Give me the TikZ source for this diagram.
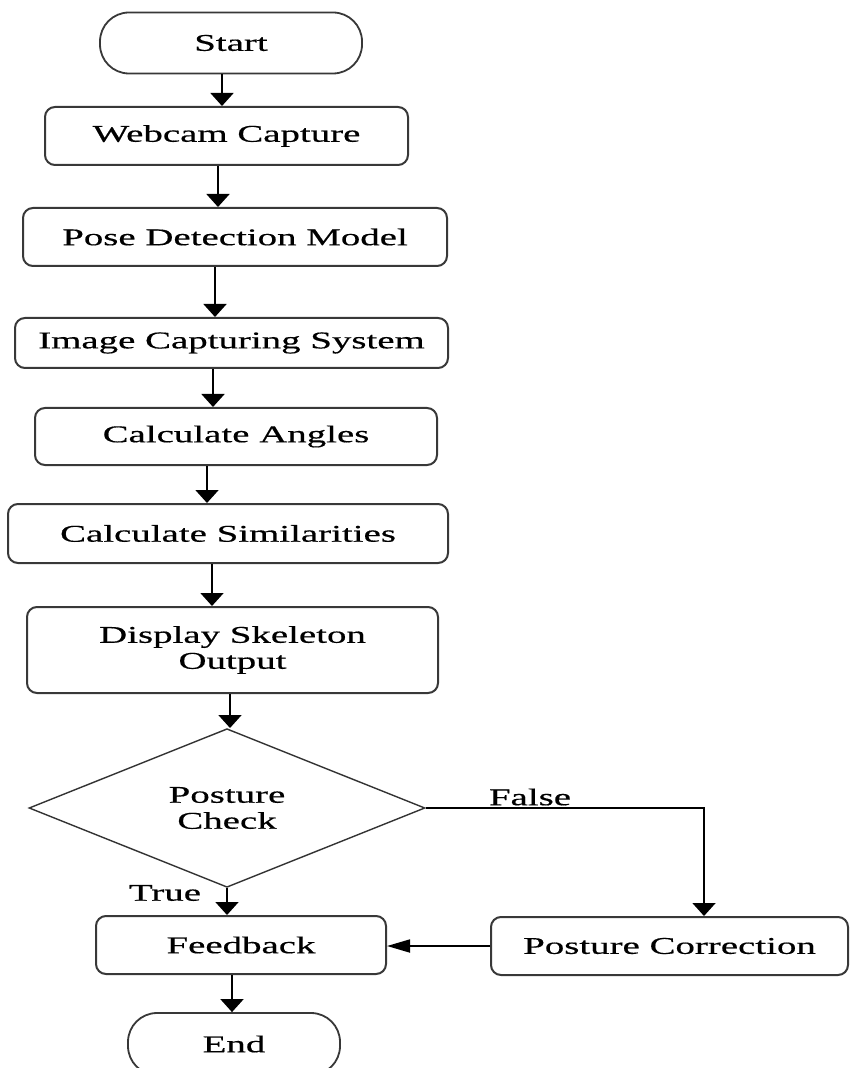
\documentclass[tikz,border=0pt]{standalone}
\usepackage{fontspec}
\setmainfont{Liberation Serif}[FakeStretch=1.62,FakeBold=0.5]
\usetikzlibrary{arrows.meta,shapes.geometric}
\begin{document}
\begin{tikzpicture}[x=0.5pt,y=-0.5pt,
  font=\fontsize{12}{13}\selectfont,
  box/.style={draw=black!78, line width=1pt, rounded corners=5pt, inner sep=0pt, align=center},
  term/.style={draw=black!78, line width=0.9pt, rounded corners=14.5pt, inner sep=0pt},
  dec/.style={draw=black!80, line width=0.7pt, diamond, inner sep=0pt, align=center},
  arr/.style={draw=black, line width=0.9pt, -{Triangle[width=11.5pt,length=6.5pt]}},
  harr/.style={draw=black, line width=0.9pt, -{Triangle[width=6.5pt,length=11.5pt]}},
  lbl/.style={inner sep=0pt}]
\useasboundingbox (0,0) rectangle (850,1068);
\fill[white] (0,0) rectangle (850,1068);

\node[term, minimum width=131pt, minimum height=30.5pt] (start) at (231,43) {Start};
\node[box, minimum width=181.5pt, minimum height=29pt] (webcam) at (226.5,136) {Webcam Capture};
\node[box, minimum width=212pt, minimum height=29pt] (pose) at (235,237) {Pose Detection Model};
\node[box, minimum width=216.5pt, minimum height=25pt] (image) at (231.5,343) {Image Capturing System};
\node[box, minimum width=201pt, minimum height=28.5pt] (angles) at (236,436.5) {Calculate Angles};
\node[box, minimum width=220pt, minimum height=29.5pt] (simil) at (228,533.5) {Calculate Similarities};
\node[box, minimum width=205.5pt, minimum height=43pt] (display) at (232.5,650) {Display Skeleton\\Output};
\node[dec, minimum width=198pt, minimum height=68pt] (check) at (227,808) {Posture\\Check};
\node[box, minimum width=145pt, minimum height=29pt] (feedback) at (241,945) {Feedback};
\node[box, minimum width=178.5pt, minimum height=29pt] (pc) at (669.5,946) {Posture Correction};
\node[term, minimum width=106pt, minimum height=31pt] (end) at (234,1044) {End};

\node[lbl] (tTrue) at (165,893) {True};
\node[lbl] (tFalse) at (530,797) {False};

\coordinate (c1) at (222,0);
\coordinate (c2) at (218,0);
\coordinate (c3) at (215,0);
\coordinate (c4) at (213,0);
\coordinate (c5) at (207,0);
\coordinate (c6) at (212,0);
\coordinate (c7) at (230,0);
\coordinate (cT) at (227,0);
\coordinate (cE) at (232,0);
\coordinate (cF) at (704,0);

\draw[arr] (start.south -| c1) -- (webcam.north -| c1);
\draw[arr] (webcam.south -| c2) -- (pose.north -| c2);
\draw[arr] (pose.south -| c3) -- (image.north -| c3);
\draw[arr] (image.south -| c4) -- (angles.north -| c4);
\draw[arr] (angles.south -| c5) -- (simil.north -| c5);
\draw[arr] (simil.south -| c6) -- (display.north -| c6);
\draw[arr] (display.south -| c7) -- (check.north -| c7);
\draw[arr] (check.south -| cT) -- (feedback.north -| cT);
\draw[arr] (check.east) -- (check.east -| cF) -- (pc.north -| cF);
\draw[harr] (pc.west) -- (feedback.east |- pc.west);
\draw[arr] (feedback.south -| cE) -- (end.north -| cE);
\end{tikzpicture}
\end{document}
